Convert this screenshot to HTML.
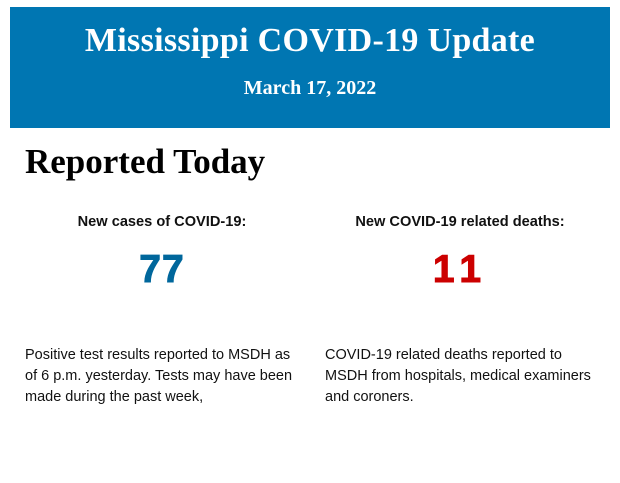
<!DOCTYPE html>
<html><head><style>
body{margin:0;width:620px;height:483px;background:#fff;position:relative;overflow:hidden;font-family:"Liberation Sans",sans-serif;}
.hdr{position:absolute;left:10px;top:7px;width:600px;height:121px;background:#0076b2;color:#fff;font-family:"Liberation Serif",serif;font-weight:bold;text-align:center;}
.t{position:absolute;left:0;width:600px;top:16px;font-size:34px;line-height:36px;letter-spacing:0.3px;}
.d{position:absolute;left:0;width:600px;top:70px;font-size:20px;line-height:22px;}
h1{position:absolute;left:25px;top:143px;margin:0;font-family:"Liberation Serif",serif;font-size:35px;line-height:38px;font-weight:bold;color:#000;}
.lab{position:absolute;top:213px;font-size:14.6px;font-weight:bold;line-height:18px;text-align:center;color:#111;}
.num{position:absolute;top:249px;font-family:"Liberation Sans",sans-serif;font-size:39px;font-weight:bold;line-height:42px;text-align:center;-webkit-text-stroke:1px;}
.p{position:absolute;top:345px;font-size:14.5px;line-height:21px;color:#111;white-space:nowrap;}
</style></head><body>
<div class="hdr"><div class="t">Mississippi COVID-19 Update</div><div class="d">March 17, 2022</div></div>
<h1>Reported Today</h1>
<div class="lab" style="left:12px;width:300px">New cases of COVID-19:</div>
<div class="lab" style="left:310px;width:300px">New COVID-19 related deaths:</div>
<div class="num" style="left:12px;width:300px;color:#00679c;letter-spacing:1px">77</div>
<div class="num" style="left:307px;width:300px;color:#cc0000;letter-spacing:7px;text-indent:7px">11</div>
<div class="p" style="left:25px">Positive test results reported to MSDH as<br>of 6 p.m. yesterday. Tests may have been<br>made during the past week,</div>
<div class="p" style="left:325px">COVID-19 related deaths reported to<br>MSDH from hospitals, medical examiners<br>and coroners.</div>
</body></html>
